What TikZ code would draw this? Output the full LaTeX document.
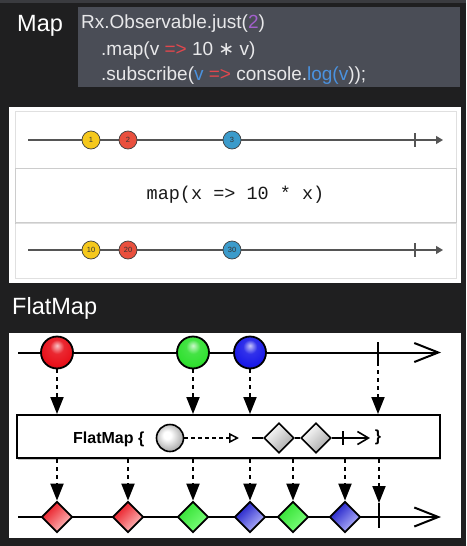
\documentclass[tikz,border=0pt]{standalone}
\usepackage{fontspec}
\setmainfont{Liberation Sans}
\newfontfamily\monofont{Liberation Mono}
\newfontfamily\djv{DejaVu Sans}
\usetikzlibrary{arrows.meta,shapes.geometric,shadows}
\definecolor{bgc}{HTML}{1F1F20}
\definecolor{stripc}{HTML}{3A3B3F}
\definecolor{codeboxc}{HTML}{4A4D56}
\definecolor{codetext}{HTML}{E8E8EA}
\definecolor{cpurple}{HTML}{A260CC}
\definecolor{cred}{HTML}{E2474D}
\definecolor{cblue}{HTML}{4A92DF}
\definecolor{myyellow}{HTML}{F5C81C}
\definecolor{myred}{HTML}{E9503E}
\definecolor{myblue}{HTML}{3B9BCB}
\definecolor{mapline}{HTML}{555555}
\definecolor{ballred}{HTML}{E8101A}
\definecolor{ballgreen}{HTML}{30E030}
\definecolor{ballblue}{HTML}{1A1AE8}
\pgfdeclareradialshading{softball}{\pgfpoint{-6bp}{6bp}}{color(0bp)=(white); color(7bp)=(white); color(25bp)=(black!30); color(50bp)=(black!30)}
\pgfdeclareradialshading{redball}{\pgfpoint{0bp}{11bp}}{color(0bp)=(ballred!25!white); color(11bp)=(ballred!90!white); color(26bp)=(ballred); color(36bp)=(ballred!65!black); color(60bp)=(ballred!65!black)}
\pgfdeclareradialshading{greenball}{\pgfpoint{0bp}{11bp}}{color(0bp)=(ballgreen!25!white); color(11bp)=(ballgreen!90!white); color(26bp)=(ballgreen); color(36bp)=(ballgreen!65!black); color(60bp)=(ballgreen!65!black)}
\pgfdeclareradialshading{blueball}{\pgfpoint{0bp}{11bp}}{color(0bp)=(ballblue!25!white); color(11bp)=(ballblue!90!white); color(26bp)=(ballblue); color(36bp)=(ballblue!65!black); color(60bp)=(ballblue!65!black)}
\begin{document}
\begin{tikzpicture}[x=1pt,y=-1pt,
  title/.style={anchor=base west,inner sep=0,text=white,font=\fontsize{23.5}{23.5}\selectfont},
  codeline/.style={anchor=base west,inner sep=0,text=codetext,font=\fontsize{19}{19}\selectfont},
  mcirc/.style={circle,draw=black!75,line width=0.7pt,minimum size=18pt,inner sep=0,
     font=\fontsize{7.5}{7.5}\selectfont,text=black!80},
  mline/.style={draw=mapline,line width=1.3pt},
  marr/.style={mline,-{Triangle[length=7pt,width=8pt]}},
  fline/.style={draw=black,line width=2pt},
  farr/.style={fline,-{Straight Barb[length=24pt,width=19pt,line width=2pt]}},
  ballnode/.style={circle,minimum size=32pt,inner sep=0,draw=black,line width=1.8pt},
  dnode/.style={diamond,aspect=1,minimum size=31pt,inner sep=0,draw=black,line width=1.8pt,shading angle=45},
  darr/.style={line width=2pt,dash pattern=on 4pt off 4pt,-{Triangle[length=17pt,width=13pt]}},
  boxlabel/.style={inner sep=0,font=\bfseries\fontsize{16}{16}\selectfont}
]
\useasboundingbox (0,0) rectangle (466,546);
\fill[bgc] (0,0) rectangle (466,546);
\fill[stripc] (0,0) rectangle (466,2.5);

% ---- Map header
\node[title] (maptitle) at (17,31) {Map};
\fill[codeboxc] (78,7) rectangle (460,87);
\node[codeline] (c1) at (81,28) {Rx.Observable.just(\textcolor{cpurple}{2})};
\node[codeline] (c2) at (101,55) {.map(v \textcolor{cred}{=>} 10 {\djv ∗} v)};
\node[codeline] (c3) at (101,80) {.subscribe(\textcolor{cblue}{v} \textcolor{cred}{=>} console.\textcolor{cblue}{log(v}));};

% ---- Map panel
\fill[white] (9,107) rectangle (461,283);
\draw[black!12,fill=white] (15,111) rectangle (456,278);
\node[draw=black!20,fill=white,minimum width=441pt,minimum height=54pt,inner sep=0,
  drop shadow={shadow xshift=0pt,shadow yshift=-1.5pt,opacity=0.25},
  font=\monofont\fontsize{18.5}{18.5}\selectfont,text=black!90] (mapbox) at (235.5,195) {map(x => 10 * x)};

\coordinate (m1s) at (28,140);
\coordinate (m1e) at (443,140);
\coordinate (m1t) at (415,140);
\draw[marr] (m1s) -- (m1e);
\draw[mline] ([yshift=7pt]m1t) -- ([yshift=-7pt]m1t);
\node[mcirc,fill=myyellow] (a1) at (91,140) {1};
\node[mcirc,fill=myred] (a2) at (128,140) {2};
\node[mcirc,fill=myblue] (a3) at (232,140) {3};

\coordinate (m2s) at (28,250);
\coordinate (m2e) at (443,250);
\coordinate (m2t) at (415,250);
\draw[marr] (m2s) -- (m2e);
\draw[mline] ([yshift=7pt]m2t) -- ([yshift=-7pt]m2t);
\node[mcirc,fill=myyellow] (r1) at (91,250) {10};
\node[mcirc,fill=myred] (r2) at (128,250) {20};
\node[mcirc,fill=myblue] (r3) at (232,250) {30};

% ---- FlatMap
\node[title] (fmtitle) at (12,314) {FlatMap};
\fill[white] (9,333) rectangle (461,538);

\coordinate (f1s) at (18,352.5);
\coordinate (f1e) at (441,352.5);
\coordinate (tk1) at (378,362);
\draw[farr] (f1s) -- (f1e);
\draw[fline] (378,342) -- (tk1);
\node[ballnode,shading=redball] (b1) at (57,352.5) {};
\node[ballnode,shading=greenball] (b2) at (193,352.5) {};
\node[ballnode,shading=blueball] (b3) at (250,352.5) {};

\node[draw=black,line width=2pt,fill=white,minimum width=423pt,minimum height=43pt,inner sep=0,
  drop shadow={shadow xshift=1pt,shadow yshift=-2pt,opacity=0.45}] (fbox) at (228.5,436.5) {};

\draw[darr] (b1.south) -- (b1.south |- fbox.north);
\draw[darr] (b2.south) -- (b2.south |- fbox.north);
\draw[darr] (b3.south) -- (b3.south |- fbox.north);
\draw[darr] (tk1) -- (tk1 |- fbox.north);

% inside box
\node[boxlabel,anchor=base west] (fml) at (73,443.5) {FlatMap \{};
\node[circle,minimum size=27pt,inner sep=0,draw=black,line width=1.6pt,shading=softball] (mc) at (170,438) {};
\coordinate (tri) at (239,438);
\draw[line width=1.5pt,dash pattern=on 3.5pt off 3.5pt,-{Triangle[open,length=10pt,width=10pt,line width=1.5pt]}] (mc.east) -- (tri);
\coordinate (ms) at (252,438);
\coordinate (me) at (370,438);
\node[dnode,minimum size=30pt,line width=1.6pt,top color=white,bottom color=black!35,shading angle=45] (md1) at (279,438) {};
\node[dnode,minimum size=30pt,line width=1.6pt,top color=white,bottom color=black!35,shading angle=45] (md2) at (316,438) {};
\draw[line width=1.6pt] (ms) -- (md1.west);
\draw[line width=1.6pt] (md1.east) -- (md2.west);
\draw[line width=1.6pt,-{Straight Barb[length=11pt,width=13pt,line width=1.6pt]}] (md2.east) -- (me);
\draw[line width=1.6pt] (343,431) -- (343,445);
\node[boxlabel] (cb) at (378,437) {\}};

% bottom timeline
\coordinate (f2s) at (18,517);
\coordinate (f2e) at (441,517);
\coordinate (tk2) at (379,503);
\draw[farr] (f2s) -- (f2e);
\draw[fline] (tk2) -- (379,528);
\node[dnode,top color=ballred,bottom color=red!22,shading angle=45] (d1) at (57,517) {};
\node[dnode,top color=ballred,bottom color=red!22,shading angle=45] (d2) at (128,517) {};
\node[dnode,top color=ballgreen,bottom color=green!50!white,shading angle=45] (d3) at (193,517) {};
\node[dnode,top color=ballblue!85!black,bottom color=blue!25,shading angle=45] (d4) at (250,517) {};
\node[dnode,top color=ballgreen,bottom color=green!50!white,shading angle=45] (d5) at (293,517) {};
\node[dnode,top color=ballblue!85!black,bottom color=blue!25,shading angle=45] (d6) at (345,517) {};

\foreach \d in {d1,d2,d3,d4,d5,d6}{
  \draw[darr] (\d.north |- fbox.south) -- (\d.north);
}
\draw[darr] (tk2 |- fbox.south) -- (tk2);
\end{tikzpicture}
\end{document}
